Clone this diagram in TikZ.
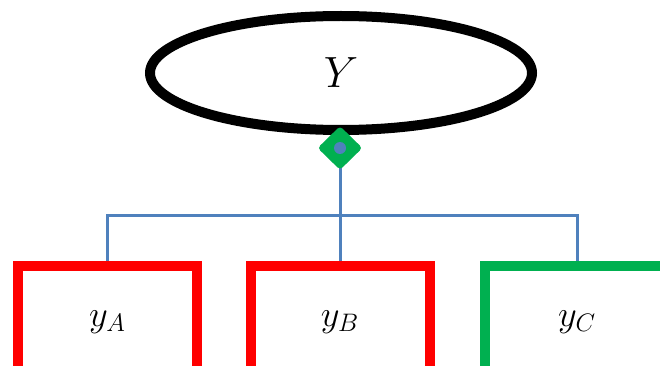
\documentclass[tikz,border=0pt]{standalone}
\usetikzlibrary{shapes.geometric, positioning}
\definecolor{linkblue}{RGB}{79,129,189}
\definecolor{boxgreen}{RGB}{0,176,80}

\begin{document}
\begin{tikzpicture}
		\tikzstyle{Top} = [ellipse, minimum width=7.64cm, minimum height=2.28cm, draw=black, line width=0.2cm, font=\fontsize{24}{28}\selectfont]
		\tikzstyle{Leaf} = [rectangle, minimum width=3.58cm, minimum height=2.24cm, line width=0.2cm, font=\fontsize{21}{24}\selectfont]
		\tikzstyle{Gate} = [diamond, minimum width=0.9cm, minimum height=0.88cm, inner sep=0pt, fill=boxgreen, rounded corners=2pt]
		\tikzstyle{link} = [linkblue, line width=0.06cm]
		
		\useasboundingbox (0,0) rectangle (13.2,7.3);
		\clip (0,0) rectangle (13.2,7.3);
		
		\node (Y) [Top] at (6.82,5.84) {$Y$};
		
		\node (yA) [Leaf, draw=red] at (2.15,0.86) {$y_A$};
		\node (yB) [Leaf, draw=red] at (6.80,0.86) {$y_B$};
		\node (yC) [Leaf, draw=boxgreen, minimum width=3.68cm] at (11.54,0.86) {$y_C$};
		
		\coordinate (j) at (6.80,3.0);
		\draw [link] (6.80,4.34) -- (yB.north);
		\draw [link] (yA.north) |- (j) -| (yC.north);
		
		\node (gate) [Gate] at (6.80,4.34) {};
		\fill [linkblue] (gate.center) circle (0.12cm);
\end{tikzpicture}
\end{document}
